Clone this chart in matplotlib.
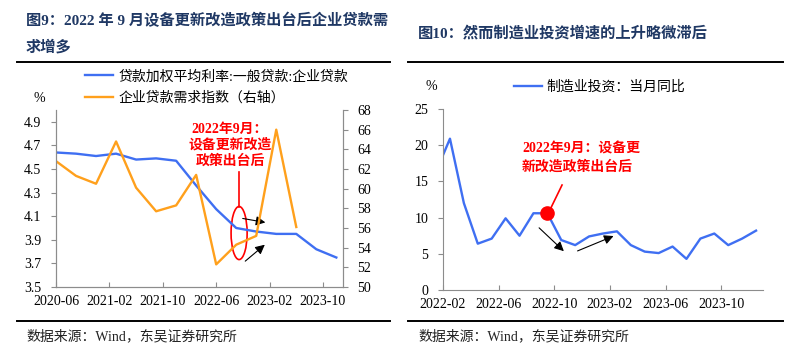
import matplotlib
matplotlib.use('Agg')
import matplotlib.pyplot as plt
from matplotlib.patches import Ellipse
from matplotlib.lines import Line2D

plt.rcParams['font.family'] = ['Liberation Serif', 'Noto Sans CJK SC']
plt.rcParams['axes.unicode_minus'] = False

# ---- data: left chart (quarterly, months counted from 2020-06) ----
rate_months = [0, 3, 6, 9, 12, 15, 18, 21, 24, 27, 30, 33, 36, 39, 42]
rate_vals = [4.64, 4.63, 4.61, 4.63, 4.58, 4.59, 4.57, 4.36, 4.16, 4.00,
             3.97, 3.95, 3.95, 3.82, 3.75]
demand_months = [0, 3, 6, 9, 12, 15, 18, 21, 24, 27, 30, 33, 36]
demand_vals = [62.8, 61.3, 60.5, 64.8, 60.1, 57.7, 58.3, 61.4, 52.3, 54.3,
               55.2, 66.0, 56.1]
left_ticks = [0, 8, 16, 24, 32, 40]
left_ticklabels = ['2020-06', '2021-02', '2021-10', '2022-06', '2023-02', '2023-10']

# ---- data: right chart (monthly, months counted from 2022-02; 2021-12 is clipped) ----
inv_months = [-2, 0, 1, 2, 3, 4, 5, 6, 7, 8, 9, 10, 11, 12, 13, 14, 15, 16,
              17, 18, 19, 20, 21, 22]
inv_vals = [11.8, 20.9, 12.0, 6.4, 7.1, 9.9, 7.5, 10.6, 10.6, 6.9, 6.2,
            7.4, 7.8, 8.1, 6.2, 5.3, 5.1, 6.0, 4.3, 7.1, 7.8, 6.2, 7.1, 8.2]
policy_month = 7  # 2022-09
right_ticks = [-0.5, 3.5, 7.5, 11.5, 15.5, 19.5]
right_ticklabels = ['2022-02', '2022-06', '2022-10', '2023-02', '2023-06', '2023-10']

BLUE = '#3F6FF2'
ORANGE = '#FFA01C'
NAVY = '#1F3864'
GRAY = '#8C8C8C'

W, H = 795, 364
fig = plt.figure(figsize=(W / 100, H / 100), dpi=100)


def px_axes(x0, y0, x1, y1):
    return fig.add_axes([x0 / W, 1 - y1 / H, (x1 - x0) / W, (y1 - y0) / H])


def style(ax, sides):
    for s in ['top', 'right', 'left', 'bottom']:
        ax.spines[s].set_visible(s in sides)
        ax.spines[s].set_color(GRAY)
    ax.tick_params(colors=GRAY, labelcolor='black', labelsize=10, length=3.5)
    ax.tick_params(axis='x', direction='in', pad=6)


def arrows(ax, pairs):
    for (x0, y0), (x1, y1) in pairs:
        ax.annotate('', xy=(x1, y1), xytext=(x0, y0), xycoords='axes fraction',
                    arrowprops=dict(arrowstyle='-|>', color='black', lw=0.8,
                                    mutation_scale=14))


# ---------------- left chart ----------------
ax = px_axes(56, 110, 343, 287)
style(ax, ['left', 'bottom', 'right'])
l1, = ax.plot(rate_months, rate_vals, color=BLUE, lw=1.7)
ax.set_xlim(0, 43)
ax.set_ylim(3.5, 5.0)
ax.set_yticks([3.5, 3.7, 3.9, 4.1, 4.3, 4.5, 4.7, 4.9])
ax.set_yticklabels(['3.5', '3.7', '3.9', '4.1', '4.3', '4.5', '4.7', '4.9'])
ax.set_xticks(left_ticks)
ax.set_xticklabels(left_ticklabels)
ax.tick_params(axis='y', pad=7)

ax2 = ax.twinx()
style(ax2, ['left', 'bottom', 'right'])
l2, = ax2.plot(demand_months, demand_vals, color=ORANGE, lw=1.7)
ax2.set_ylim(50, 68)
ax2.set_yticks(range(50, 69, 2))
ax2.tick_params(axis='y', pad=7)

fig.legend([l1, l2], ['贷款加权平均利率:一般贷款:企业贷款', '企业贷款需求指数（右轴）'],
           loc='upper left', bbox_to_anchor=(85 / W, 1 - 70 / H), frameon=False,
           fontsize=10, handlelength=2.0, handletextpad=0.4, labelspacing=0.6,
           borderpad=0, borderaxespad=0)
fig.text(33 / W, 1 - 98 / H, '%', fontsize=10, ha='left', va='center')

ax.text(0.606, 0.80, '2022年9月：\n设备更新改造\n政策出台后', transform=ax.transAxes,
        color='red', fontsize=10, fontweight='bold', ha='center', va='center',
        linespacing=1.25, zorder=5)
ax.plot([0.638, 0.638], [0.650, 0.452], color='red', lw=1.2, transform=ax.transAxes)
ax.add_patch(Ellipse((0.638, 0.305), 0.056, 0.30, transform=ax.transAxes,
                     fill=False, edgecolor='red', lw=1.2))
arrows(ax, [((0.641, 0.390), (0.739, 0.362)),
            ((0.652, 0.136), (0.735, 0.249))])

# ---------------- right chart ----------------
bx = px_axes(443, 109, 763, 290)
style(bx, ['left', 'bottom'])
l3, = bx.plot(inv_months, inv_vals, color=BLUE, lw=1.7, zorder=2)
bx.set_xlim(-0.5, 22.5)
bx.set_ylim(0, 25)
bx.set_yticks(range(0, 26, 5))
bx.set_xticks(right_ticks)
bx.set_xticklabels(right_ticklabels)
bx.tick_params(axis='y', pad=7)
k = inv_months.index(policy_month)
bx.plot([inv_months[k]], [inv_vals[k]], 'o', color='red', ms=9.5, zorder=3)

fig.legend([l3], ['制造业投资：当月同比'], loc='upper left',
           bbox_to_anchor=(514 / W, 1 - 80 / H), frameon=False, fontsize=10,
           handlelength=2.0, handletextpad=0.3, borderpad=0, borderaxespad=0)
fig.text(426 / W, 1 - 86 / H, '%', fontsize=10, ha='left', va='center')

bx.text(0.247, 0.728, '2022年9月：设备更\n新改造政策出台后', transform=bx.transAxes,
        color='red', fontsize=10, fontweight='bold', ha='left', va='center',
        linespacing=1.5)
bx.plot([0.334, 0.372], [0.442, 0.580], color='red', lw=1.2, transform=bx.transAxes)
arrows(bx, [((0.294, 0.354), (0.384, 0.204)),
            ((0.4125, 0.210), (0.541, 0.304))])

# ---------------- titles, rules, sources ----------------
fig.text(26 / W, 1 - 20 / H, '图9：2022 年 9 月设备更新改造政策出台后企业贷款需',
         fontsize=11, fontweight='bold', color=NAVY, ha='left', va='center')
fig.text(26 / W, 1 - 47 / H, '求增多', fontsize=11, fontweight='bold', color=NAVY,
         ha='left', va='center')
fig.text(418 / W, 1 - 33 / H, '图10：然而制造业投资增速的上升略微滞后',
         fontsize=11, fontweight='bold', color=NAVY, ha='left', va='center')

for x0, x1 in [(17, 390), (408, 783)]:
    for y in [62, 321]:
        fig.add_artist(Line2D([x0 / W, x1 / W], [1 - y / H, 1 - y / H],
                              color='black', lw=1.4))
for x in [26, 418]:
    fig.text(x / W, 1 - 336 / H, '数据来源：Wind，东吴证券研究所', fontsize=10,
             color='#222222', ha='left', va='center')

fig.savefig('out.png', dpi=100)
